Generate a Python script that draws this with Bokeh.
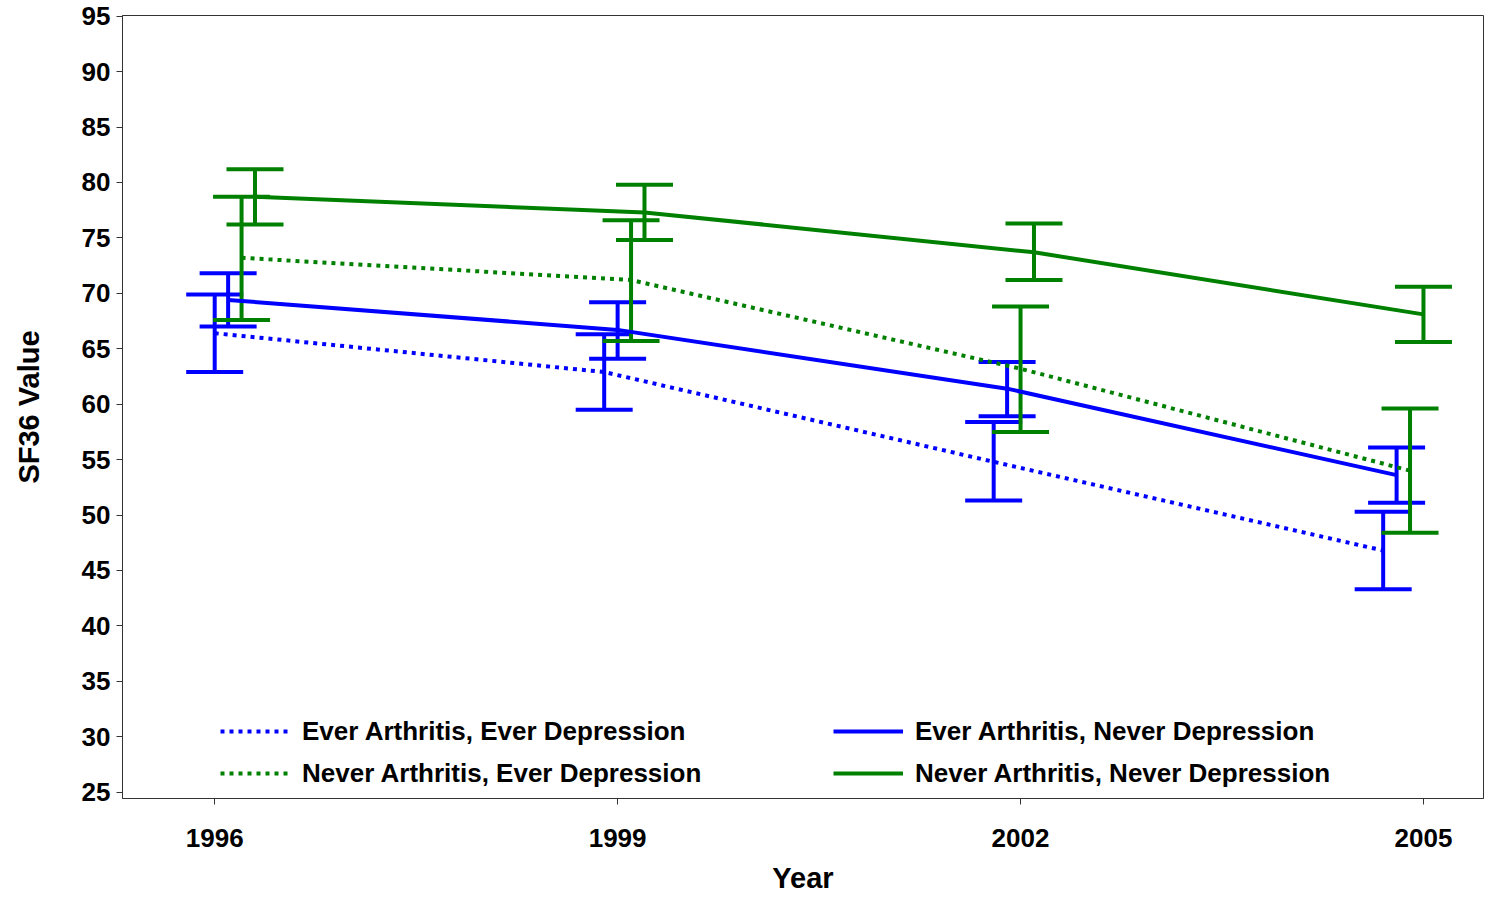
from bokeh.plotting import figure
from bokeh.models import (ColumnDataSource, Whisker, TeeHead, Range1d, FixedTicker,
                          Legend, LegendItem)
from bokeh.embed import file_html
from bokeh.resources import INLINE

# ---- data ----
years = [1996, 1999, 2002, 2005]
series_names = [
    "Ever Arthritis, Ever Depression",
    "Ever Arthritis, Never Depression",
    "Never Arthritis, Ever Depression",
    "Never Arthritis, Never Depression",
]
ee_mean = [66.4, 62.9, 54.8, 46.8]
ee_lo = [62.9, 59.5, 51.3, 43.3]
ee_hi = [69.9, 66.3, 58.4, 50.3]

en_mean = [69.4, 66.7, 61.4, 53.6]
en_lo = [67.0, 64.1, 58.9, 51.1]
en_hi = [71.8, 69.2, 63.8, 56.1]

ne_mean = [73.2, 71.2, 63.2, 54.0]
ne_lo = [67.6, 65.7, 57.5, 48.4]
ne_hi = [78.7, 76.6, 68.8, 59.6]

nn_mean = [78.7, 77.3, 73.7, 68.1]
nn_lo = [76.2, 74.8, 71.2, 65.6]
nn_hi = [81.2, 79.8, 76.3, 70.6]

y_ticks = [25, 30, 35, 40, 45, 50, 55, 60, 65, 70, 75, 80, 85, 90, 95]

# ---- styling ----
BLUE = "#0000FF"
GREEN = "#008000"
FONT = "Liberation Sans"
styles = [
    (BLUE, "4 5"),
    (BLUE, "solid"),
    (GREEN, "4 5"),
    (GREEN, "solid"),
]
all_data = [
    (ee_mean, ee_lo, ee_hi),
    (en_mean, en_lo, en_hi),
    (ne_mean, ne_lo, ne_hi),
    (nn_mean, nn_lo, nn_hi),
]

p = figure(width=1485, height=897, output_backend="svg", toolbar_location=None,
           x_range=Range1d(1995.3135, 2005.447), y_range=Range1d(24.43, 95.06),
           min_border_left=122, min_border_right=2, min_border_top=15,
           min_border_bottom=99)
p.xgrid.visible = False
p.ygrid.visible = False
p.outline_line_color = "#333333"
p.outline_line_width = 1
p.background_fill_color = "white"
p.border_fill_color = "white"

renderers = []
for k, ((color, dash), (m, lo, hi)) in enumerate(zip(styles, all_data)):
    # small horizontal dodge used in the original so bars do not overlap
    xs = [yr + 0.1 * (k - i) for i, yr in enumerate(years)]
    src = ColumnDataSource(dict(x=xs, m=m, lo=lo, hi=hi))
    r = p.line("x", "m", source=src, line_color=color, line_width=4,
               line_dash=dash)
    renderers.append(r)
    w = Whisker(base="x", lower="lo", upper="hi", source=src,
                line_color=color, line_width=4,
                upper_head=TeeHead(size=57, line_color=color, line_width=4),
                lower_head=TeeHead(size=57, line_color=color, line_width=4))
    p.add_layout(w)

# axes
for ax in (p.xaxis, p.yaxis):
    ax.axis_line_color = "#333333"
    ax.major_tick_line_color = "#333333"
    ax.major_tick_out = 6
    ax.major_tick_in = 0
    ax.minor_tick_line_color = None
    ax.major_label_text_font = FONT
    ax.major_label_text_font_style = "bold"
    ax.major_label_text_font_size = "26px"
    ax.major_label_text_color = "black"
    ax.axis_label_text_font = FONT
    ax.axis_label_text_font_style = "bold"
    ax.axis_label_text_font_size = "29px"
    ax.axis_label_text_color = "black"

p.xaxis.ticker = FixedTicker(ticks=years)
p.yaxis.ticker = FixedTicker(ticks=y_ticks)
p.xaxis.axis_label = "Year"
p.yaxis.axis_label = "SF36 Value"
p.xaxis.major_label_standoff = 24
p.xaxis.axis_label_standoff = 12
p.yaxis.major_label_standoff = 6
p.yaxis.axis_label_standoff = 34

order = [0, 2, 1, 3]
items = [LegendItem(label=series_names[i], renderers=[renderers[i]]) for i in order]
legend = Legend(items=items, location=(98, 4), orientation="vertical", ncols=2,
                glyph_width=70, glyph_height=42, label_height=42, label_width=531,
                label_standoff=12, spacing=0, padding=0, margin=0,
                label_text_font=FONT, label_text_font_style="bold",
                label_text_font_size="26px", label_text_color="black",
                background_fill_alpha=0, border_line_alpha=0)
p.add_layout(legend)

open("out.html", "w").write(file_html(p, INLINE))
